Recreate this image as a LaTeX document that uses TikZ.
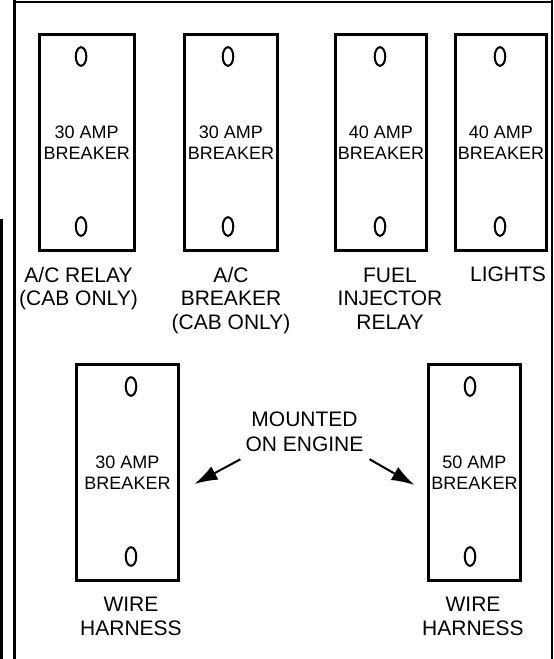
\documentclass[tikz,border=0pt]{standalone}
\usepackage{fontspec}
\setmainfont{Liberation Sans}
\usepackage{tikz}
\usetikzlibrary{arrows.meta,calc,positioning}
\tikzstyle{breaker} = [draw, line width=3pt, inner sep=0pt, align=center, font=\fontsize{18}{21}\selectfont]
\tikzstyle{hole} = [line width=2pt]
\tikzstyle{tag} = [inner sep=0pt, anchor=north, align=center, font=\fontsize{21}{23.5}\selectfont]
\tikzstyle{pointer} = [-{Latex[length=23pt, width=15pt]}, line width=2pt]
\begin{document}
\begin{tikzpicture}[x=1pt, y=-1pt]
\useasboundingbox (0,0) rectangle (554,659);
% panel frame
\draw[line width=2.5pt] (14.5,0) -- (14.5,659);
\draw[line width=2.2pt] (14.5,2) -- (552,2);
\draw[line width=2.2pt] (552,0) -- (552,659);
\draw[line width=3.5pt] (1.7,219) -- (1.7,659);

% breakers in the panel
\foreach \name/\x/\w/\amp in {cb1/86.75/94.5/30,cb2/231/93/30,cb3/381/91/40,cb4/501/91/40}{
  \node[breaker, minimum width=\w pt, minimum height=216pt] (\name) at (\x,142.5) {\amp{} AMP\\BREAKER};
}
% breakers on the engine
\node[breaker, minimum width=102pt, minimum height=216pt] (cb5) at (127.5,472.5) {30 AMP\\BREAKER};
\node[breaker, minimum width=92pt, minimum height=216pt] (cb6) at (474.5,472.5) {50 AMP\\BREAKER};

\foreach \name/\dx in {cb1/-5.7,cb2/-3,cb3/-1,cb4/-1,cb5/3.5,cb6/-4.5}{
  \draw[hole] ($(\name.north)+(\dx,23.5)$) ellipse (5.3pt and 9.3pt);
  \draw[hole] ($(\name.south)+(\dx,-25.5)$) ellipse (5.3pt and 9.3pt);
}

\node[tag] (use1) at (78.5,267) {A/C RELAY\\(CAB ONLY)};
\node[tag] (use2) at (231,267) {A/C\\BREAKER\\(CAB ONLY)};
\node[tag] (use3) at (390,267.5) {FUEL\\INJECTOR\\RELAY};
\node[tag] (use4) at (508,267) {LIGHTS};
\node[tag] (use5) at (131,597) {WIRE\\HARNESS};
\node[tag] (use6) at (473,597) {WIRE\\HARNESS};

\node[tag, font=\fontsize{21}{25}\selectfont] (mount) at (304.5,412) {MOUNTED\\ON ENGINE};
\draw[pointer] ($(mount.south west)+(-5,7)$) -- ($(cb5.east)+(14.5,11.5)$);
\draw[pointer] ($(mount.south east)+(6,7)$) -- ($(cb6.west)+(-12.5,12.5)$);
\end{tikzpicture}
\end{document}
